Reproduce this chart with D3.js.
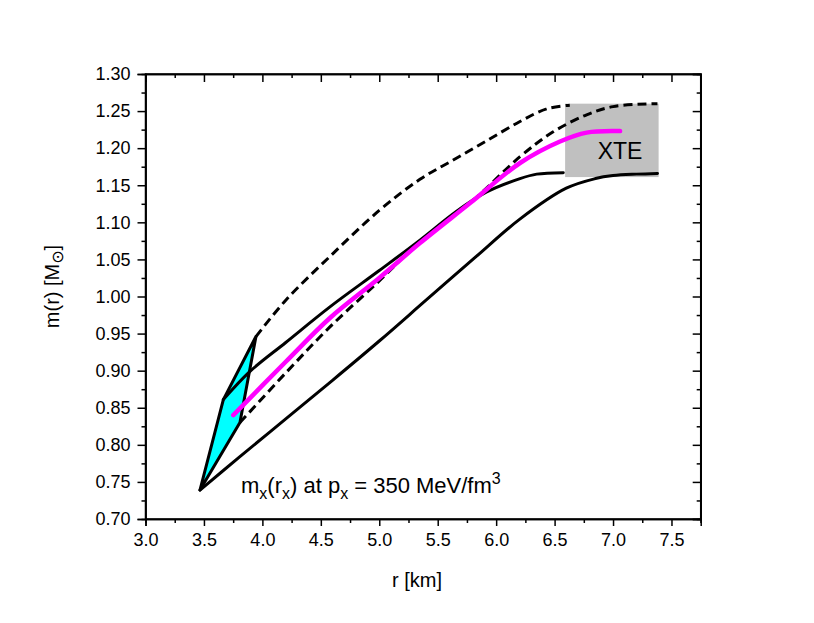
<!DOCTYPE html>
<html>
<head>
<meta charset="utf-8">
<script src="https://cdn.jsdelivr.net/npm/d3@7"></script>
<style>
  body { margin: 0; background: #fff; }
  text { font-family: "Liberation Sans", Arial, sans-serif; fill: #000; }
</style>
</head>
<body>
<svg id="chart" width="814" height="623"></svg>
<script>
// ticks
var xMajor = [3.0, 3.5, 4.0, 4.5, 5.0, 5.5, 6.0, 6.5, 7.0, 7.5];
var xMinor = [3.25, 3.75, 4.25, 4.75, 5.25, 5.75, 6.25, 6.75, 7.25, 7.75];
var yMajor = [0.70, 0.75, 0.80, 0.85, 0.90, 0.95, 1.00, 1.05, 1.10, 1.15, 1.20, 1.25, 1.30];
var yMinor = [0.725, 0.775, 0.825, 0.875, 0.925, 0.975, 1.025, 1.075, 1.125, 1.175, 1.225, 1.275];

// curves (r in km, m in Msun)
var rLowSolid = [3.466, 3.8, 4.2, 4.6, 5.0, 5.4, 5.83, 6.2, 6.6, 6.85, 7.0, 7.2, 7.38];
var mLowSolid = [0.739, 0.783, 0.835, 0.887, 0.940, 0.995, 1.054, 1.104, 1.146, 1.159, 1.163, 1.165, 1.166];

var rUpSolid = [3.666, 3.894, 4.2, 4.578, 5.0, 5.348, 5.662, 5.919, 6.204, 6.347, 6.574];
var mUpSolid = [0.861, 0.899, 0.938, 0.986, 1.035, 1.076, 1.115, 1.141, 1.159, 1.165, 1.167];

var rUpDash = [3.945, 4.2, 4.578, 5.0, 5.348, 5.633, 5.919, 6.204, 6.432, 6.63];
var mUpDash = [0.946, 0.995, 1.054, 1.116, 1.158, 1.184, 1.210, 1.236, 1.253, 1.258];

var rLowDash = [3.808, 4.2, 4.578, 5.0, 5.348, 5.777, 6.204, 6.488, 6.774, 7.0, 7.287, 7.38];
var mLowDash = [0.830, 0.897, 0.959, 1.021, 1.074, 1.126, 1.1885, 1.222, 1.245, 1.256, 1.2596, 1.260];

var rMag = [3.751, 4.2, 4.578, 5.0, 5.348, 5.777, 6.204, 6.546, 6.774, 7.06];
var mMag = [0.840, 0.912, 0.971, 1.025, 1.072, 1.126, 1.180, 1.209, 1.221, 1.223];

// cyan region m_x(r_x)
var rDiamond = [3.466, 3.666, 3.945, 3.808];
var mDiamond = [0.739, 0.861, 0.946, 0.830];

// XTE box
var xteR = [6.59, 7.39];
var xteM = [1.161, 1.260];

var svg = d3.select("#chart");
var L = 145.5, R = 700.7, T = 74, B = 519;

var x = d3.scaleLinear().domain([3, 7.75]).range([L, R]);
var y = d3.scaleLinear().domain([0.70, 1.30]).range([B, T]);

function zip(rs, ms) {
  return rs.map(function(r, i) { return [r, ms[i]]; });
}

var line = d3.line()
  .x(function(d) { return x(d[0]); })
  .y(function(d) { return y(d[1]); })
  .curve(d3.curveCatmullRom.alpha(0.5));

// XTE box
svg.append("rect")
  .attr("x", x(xteR[0]))
  .attr("y", y(xteM[1]))
  .attr("width", x(xteR[1]) - x(xteR[0]))
  .attr("height", y(xteM[0]) - y(xteM[1]))
  .style("fill", "#c0c0c0");

svg.append("text")
  .attr("x", 620).attr("y", 159)
  .attr("text-anchor", "middle")
  .style("font-size", "23px")
  .text("XTE");

// cyan polygon
svg.append("path")
  .attr("d", d3.line()
    .x(function(d) { return x(d[0]); })
    .y(function(d) { return y(d[1]); })(zip(rDiamond, mDiamond)) + "Z")
  .style("fill", "#00ffff")
  .style("stroke", "#000")
  .style("stroke-width", 3)
  .style("stroke-linejoin", "round");

var curves = [
  { d: zip(rLowSolid, mLowSolid), color: "#000", w: 3, dash: null },
  { d: zip(rUpSolid, mUpSolid), color: "#000", w: 3, dash: null },
  { d: zip(rUpDash, mUpDash), color: "#000", w: 3, dash: "9,5" },
  { d: zip(rLowDash, mLowDash), color: "#000", w: 3, dash: "9,5" },
  { d: zip(rMag, mMag), color: "#ff00ff", w: 4.5, dash: null }
];

curves.forEach(function(c) {
  svg.append("path")
    .attr("d", line(c.d))
    .style("fill", "none")
    .style("stroke", c.color)
    .style("stroke-width", c.w)
    .style("stroke-linecap", c.dash ? "butt" : "round")
    .style("stroke-dasharray", c.dash);
});

// axes
var fmtX = d3.format(".1f"), fmtY = d3.format(".2f");

svg.append("g").attr("transform", "translate(0," + B + ")")
  .call(d3.axisBottom(x).tickValues(xMinor).tickSize(4).tickFormat(""));
svg.append("g").attr("transform", "translate(0," + B + ")")
  .call(d3.axisBottom(x).tickValues(xMajor).tickSize(7).tickPadding(7).tickFormat(fmtX));
svg.append("g").attr("transform", "translate(0," + T + ")")
  .call(d3.axisTop(x).tickValues(xMinor).tickSize(-4).tickFormat(""));
svg.append("g").attr("transform", "translate(0," + T + ")")
  .call(d3.axisTop(x).tickValues(xMajor).tickSize(-8).tickFormat(""));

svg.append("g").attr("transform", "translate(" + L + ",0)")
  .call(d3.axisLeft(y).tickValues(yMinor).tickSize(4).tickFormat(""));
svg.append("g").attr("transform", "translate(" + L + ",0)")
  .call(d3.axisLeft(y).tickValues(yMajor).tickSize(8).tickPadding(7).tickFormat(fmtY));
svg.append("g").attr("transform", "translate(" + R + ",0)")
  .call(d3.axisRight(y).tickValues(yMinor).tickSize(-4).tickFormat(""));
svg.append("g").attr("transform", "translate(" + R + ",0)")
  .call(d3.axisRight(y).tickValues(yMajor).tickSize(-8).tickFormat(""));

svg.selectAll(".domain").style("stroke-width", 1.5);
svg.selectAll(".tick line").style("stroke-width", 1.5);
svg.selectAll(".tick text")
  .style("font-family", "'Liberation Sans', Arial, sans-serif")
  .style("font-size", "18px");

// frame
svg.append("rect")
  .attr("x", L).attr("y", T)
  .attr("width", R - L).attr("height", B - T)
  .style("fill", "none").style("stroke", "#000").style("stroke-width", 1.5);

// axis titles
svg.append("text")
  .attr("x", 417).attr("y", 587)
  .attr("text-anchor", "middle")
  .style("font-size", "20px")
  .text("r [km]");

var yt = svg.append("text")
  .attr("transform", "translate(59," + ((T + B) / 2 - 10) + ") rotate(-90)")
  .attr("text-anchor", "middle")
  .style("font-size", "20px");
yt.append("tspan").text("m(r) [M");
yt.append("tspan").attr("dy", 4).style("font-size", "16px").style("font-family", "'DejaVu Sans', sans-serif").text("\u2299");
yt.append("tspan").attr("dy", -4).text("]");

// annotation
var ann = svg.append("text")
  .attr("x", 241).attr("y", 493)
  .style("font-size", "22px");
ann.append("tspan").text("m");
ann.append("tspan").attr("dy", 6).style("font-size", "16px").text("x");
ann.append("tspan").attr("dy", -6).text("(r");
ann.append("tspan").attr("dy", 6).style("font-size", "16px").text("x");
ann.append("tspan").attr("dy", -6).text(") at p");
ann.append("tspan").attr("dy", 6).style("font-size", "16px").text("x");
ann.append("tspan").attr("dy", -6).text(" = 350 MeV/fm");
ann.append("tspan").attr("dy", -9).style("font-size", "16px").text("3");
</script>
</body>
</html>
